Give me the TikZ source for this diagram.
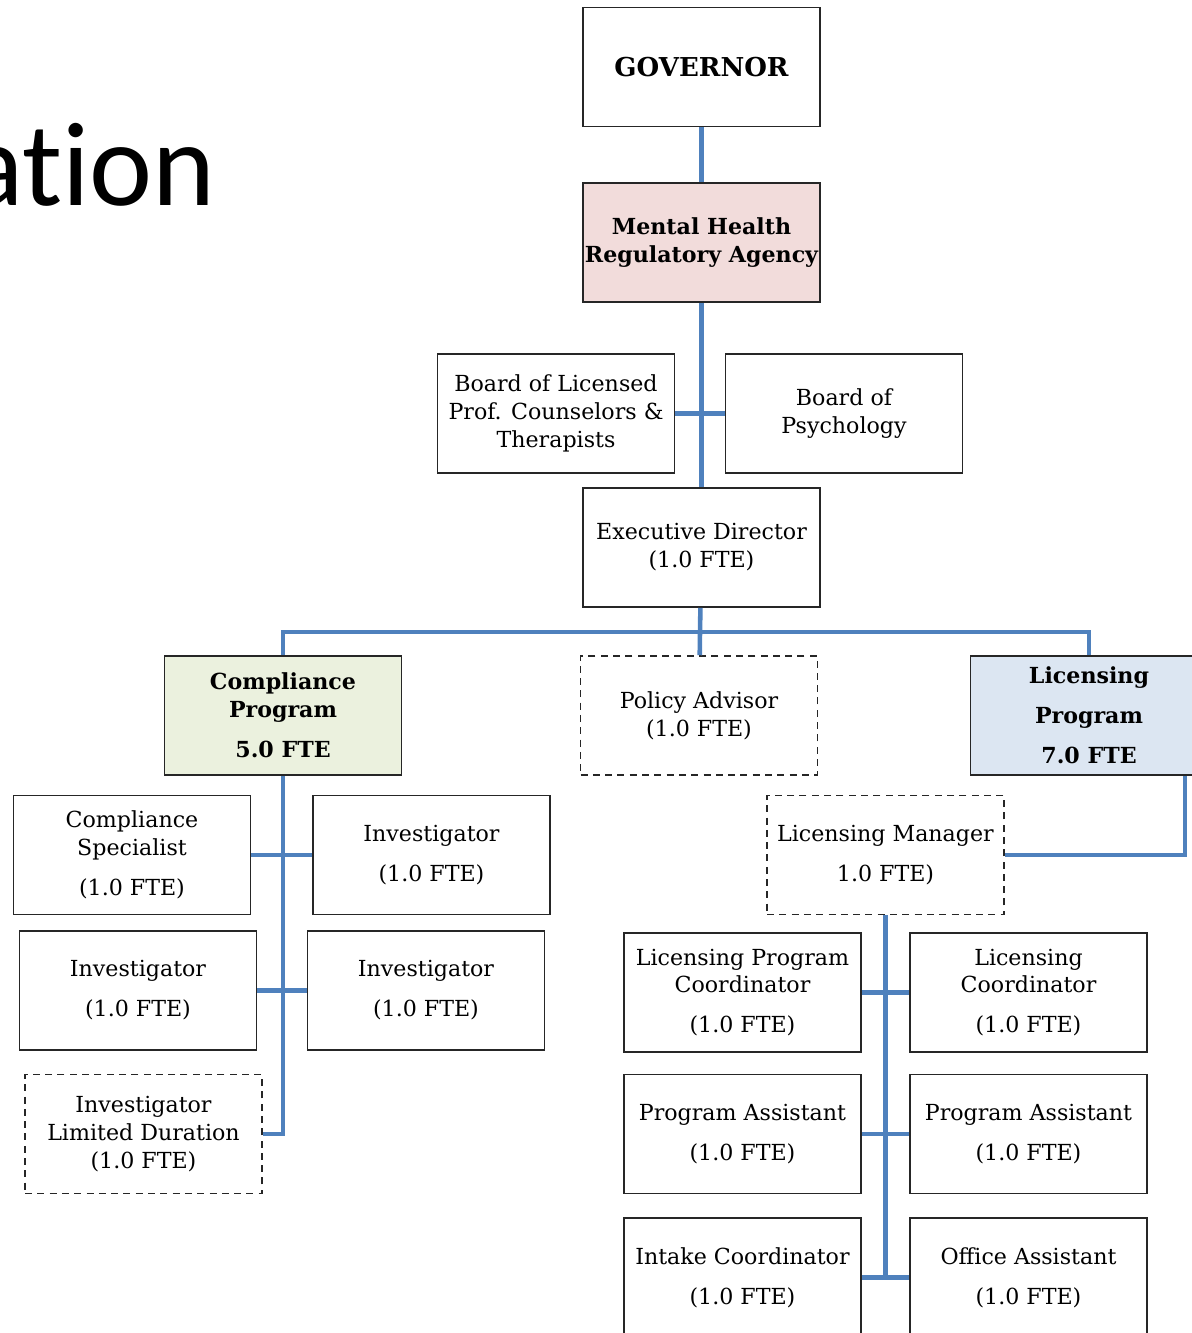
\documentclass[tikz,border=0pt]{standalone}
\usepackage{fontspec}
\setmainfont{DejaVu Serif}
\newfontfamily\titlefont[Ligatures=NoCommon]{Carlito}
\definecolor{linkblue}{HTML}{4F81BD}
\definecolor{agencypink}{HTML}{F2DCDB}
\definecolor{compgreen}{HTML}{EBF1DE}
\definecolor{licblue}{HTML}{DCE6F2}
\begin{document}
\begin{tikzpicture}[x=0.02cm, y=-0.02cm,
  box/.style={draw=black!85, line width=0.9pt, minimum width=4.74cm, minimum height=2.38cm,
              align=center, inner sep=1pt, font=\fontsize{12.6}{15.9}\selectfont},
  dashbox/.style={box, dash pattern=on 4pt off 3pt},
  headbox/.style={box, font=\bfseries\fontsize{12.6}{15.9}\selectfont},
  link/.style={draw=linkblue, line width=2.6pt}]
\useasboundingbox (0,0) rectangle (1192,1333);

\node[anchor=base east, inner sep=0, font=\titlefont\fontsize{68}{70}\selectfont] (title) at (216,205) {ation};

\node[headbox, font=\bfseries\fontsize{14.8}{16}\selectfont] (gov) at (701.5,67) {GOVERNOR};
\node[headbox, fill=agencypink] (mhra) at (701.5,242.5) {Mental Health\\Regulatory Agency};
\node[box] (blpc) at (556,413.5) {Board of Licensed\\Prof. Counselors \&\\Therapists};
\node[box] (bop) at (844,413.5) {Board of\\Psychology};
\node[box] (ed) at (701.5,547.5) {Executive Director\\(1.0 FTE)};

\node[headbox, fill=compgreen] (cp) at (283,715.5) {Compliance\\Program\\[6.8pt]5.0 FTE};
\node[dashbox] (pol) at (699,715.5) {Policy Advisor\\(1.0 FTE)};
\node[headbox, fill=licblue] (lp) at (1089,715.5) {Licensing\\[6.8pt]Program\\[6.8pt]7.0 FTE};

\node[box] (cs) at (132,855) {Compliance\\Specialist\\[6.8pt](1.0 FTE)};
\node[box] (inv1) at (431.5,855) {Investigator\\[6.8pt](1.0 FTE)};
\node[box] (inv2) at (138,990.5) {Investigator\\[6.8pt](1.0 FTE)};
\node[box] (inv3) at (426,990.5) {Investigator\\[6.8pt](1.0 FTE)};
\node[dashbox] (ild) at (143.5,1134) {Investigator\\Limited Duration\\(1.0 FTE)};

\node[dashbox] (lm) at (885.5,855) {Licensing Manager\\[6.8pt]1.0 FTE)};
\node[box] (lpc) at (742.5,992.5) {Licensing Program\\Coordinator\\[6.8pt](1.0 FTE)};
\node[box] (lc) at (1028.5,992.5) {Licensing\\Coordinator\\[6.8pt](1.0 FTE)};
\node[box] (pa1) at (742.5,1134) {Program Assistant\\[6.8pt](1.0 FTE)};
\node[box] (pa2) at (1028.5,1134) {Program Assistant\\[6.8pt](1.0 FTE)};
\node[box] (ic) at (742.5,1277.5) {Intake Coordinator\\[6.8pt](1.0 FTE)};
\node[box] (oa) at (1028.5,1277.5) {Office Assistant\\[6.8pt](1.0 FTE)};

% top of the tree
\coordinate (bus) at (700,632);
\draw[link] (gov) -- (mhra);
\draw[link] (mhra) -- (ed);
\draw[link] (blpc) -- (bop);
\draw[link] (ed) -- (bus);
\draw[link] (cp.north) |- (bus) -| (lp.north);
\draw[link] (bus) -- (pol);

% compliance branch
\draw[link] (cp.south) |- (ild.east);
\draw[link] (cs) -- (inv1);
\draw[link] (inv2) -- (inv3);

% licensing branch
\draw[link] ([xshift=1.92cm]lp.south) |- (lm.east);
\draw[link] (lm.south) |- (ic.east);
\draw[link] (lpc) -- (lc);
\draw[link] (pa1) -- (pa2);
\draw[link] (ic) -- (oa);
\end{tikzpicture}
\end{document}
